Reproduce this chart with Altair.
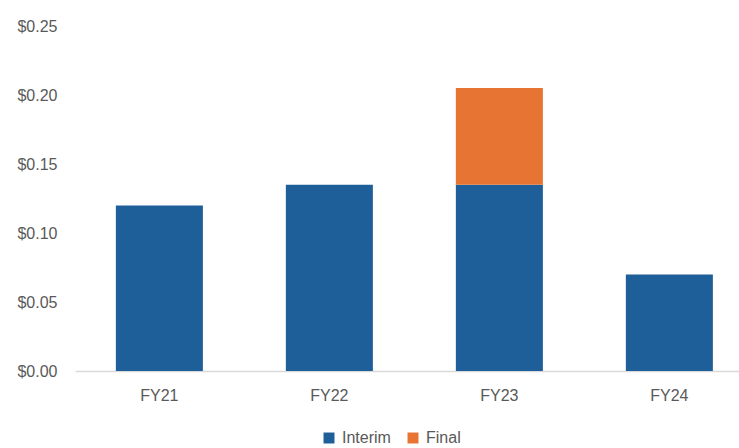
import altair as alt
import pandas as pd

years = ["FY21", "FY22", "FY23", "FY24"]
interim = [0.12, 0.135, 0.135, 0.07]
final = [0.0, 0.0, 0.07, 0.0]
series = ["Interim", "Final"]
colors = ["#1F5F99", "#E87433"]
y_ticks = [0.0, 0.05, 0.10, 0.15, 0.20, 0.25]

rows = []
for y, i, f in zip(years, interim, final):
    rows.append({"year": y, "type": "Interim", "value": i, "ord": 0})
    if f > 0:
        rows.append({"year": y, "type": "Final", "value": f, "ord": 1})
df = pd.DataFrame(rows)

font = "Liberation Sans"
gray = "#595959"

chart = alt.Chart(df).mark_bar().encode(
    x=alt.X("year:N", sort=years, title=None,
            scale=alt.Scale(paddingInner=0.488, paddingOuter=0.197, align=0.61),
            axis=alt.Axis(labelAngle=0, ticks=False, domainColor="#D9D9D9", domainWidth=1.5,
                          labelPadding=16, labelFontSize=16, labelColor=gray, labelFont=font)),
    y=alt.Y("value:Q", stack="zero", title=None,
            scale=alt.Scale(domain=[0, 0.25], nice=False),
            axis=alt.Axis(values=y_ticks, format="$.2f", grid=False, ticks=False, domain=False,
                          labelPadding=18, labelFontSize=16, labelColor=gray, labelFont=font)),
    color=alt.Color("type:N", scale=alt.Scale(domain=series, range=colors),
                    legend=alt.Legend(title=None, orient="none", direction="horizontal",
                                      legendX=246, legendY=404, symbolType="square",
                                      symbolSize=120, symbolStrokeWidth=0, labelFontSize=16,
                                      labelColor=gray, labelFont=font, columnPadding=14,
                                      labelOffset=5)),
    order=alt.Order("ord:Q"),
).properties(
    width=664, height=345,
    autosize=alt.AutoSizeParams(type="none"),
    padding={"left": 75, "top": 26, "right": 0, "bottom": 77},
).configure_view(stroke=None)

chart.save("out.html", embed_options={"renderer": "svg", "actions": False})
